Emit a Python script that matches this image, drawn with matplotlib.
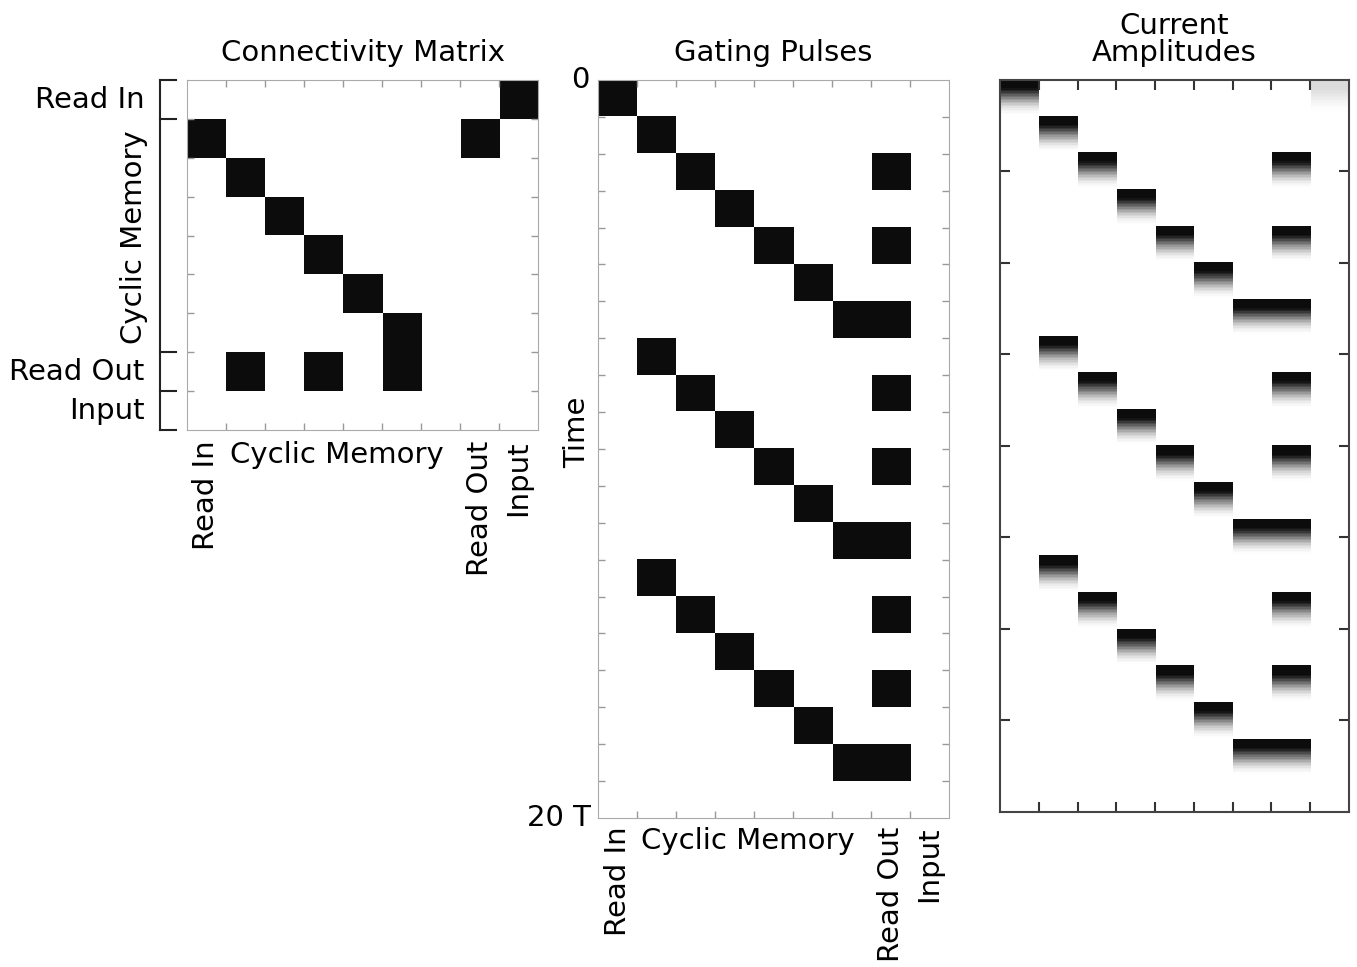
import numpy as np
import matplotlib
matplotlib.use("Agg")
import matplotlib.pyplot as plt

# ─── Data ────────────────────────────────────────────────────────
UNITS = ["Read In", "CM1", "CM2", "CM3", "CM4", "CM5", "CM6", "Read Out", "Input"]
N_UNITS = len(UNITS)
N_STEPS = 20

# connectivity: (row, col) pairs that are 1
CONNECTIONS = [
    (0, 8),
    (1, 0), (1, 7),
    (2, 1), (3, 2), (4, 3), (5, 4), (6, 5),
    (7, 1), (7, 3), (7, 5),
]

# gating pulses: (time step, unit) pairs that are on
PULSES = [
    (0, 0),
    (1, 1), (2, 2), (2, 7), (3, 3), (4, 4), (4, 7), (5, 5), (6, 6), (6, 7),
    (7, 1), (8, 2), (8, 7), (9, 3), (10, 4), (10, 7), (11, 5), (12, 6), (12, 7),
    (13, 1), (14, 2), (14, 7), (15, 3), (16, 4), (16, 7), (17, 5), (18, 6), (18, 7),
]

# faint input current at t=0
EXTRA_AMPS = [(0, 8, 0.15)]

# shape of a current pulse within one time step
DECAY_PROFILE = [1.0, 1.0, 1.0, 1.0, 1.0, 1.0, 0.96, 0.9, 0.82, 0.74,
                 0.66, 0.58, 0.5, 0.42, 0.35, 0.28, 0.22, 0.17, 0.12, 0.08,
                 0.05, 0.03, 0.01, 0.0]

X_LABELS_ROT = {0: "Read In", 7: "Read Out", 8: "Input"}
TICK_GRAY = "#999999"
FS = 21


def build_matrices():
    conn = np.zeros((N_UNITS, N_UNITS))
    for r, c in CONNECTIONS:
        conn[r, c] = 1
    gate = np.zeros((N_STEPS, N_UNITS))
    for t, u in PULSES:
        gate[t, u] = 1
    amp = gate.copy()
    for t, u, a in EXTRA_AMPS:
        amp[t, u] = a
    prof = np.array(DECAY_PROFILE)[:, None]
    amp_img = np.kron(amp, prof)
    return conn, gate, amp_img


def unit_xlabels(ax, y0=-0.03):
    # rotated labels for single units, one horizontal label for the memory block
    for i, name in X_LABELS_ROT.items():
        ax.text((i + 0.5) / N_UNITS, y0, name, transform=ax.transAxes,
                rotation=90, ha="center", va="top", fontsize=FS)
    ax.text(3.85 / N_UNITS, y0, "Cyclic Memory", transform=ax.transAxes,
            ha="center", va="top", fontsize=FS)


def grid_ticks(ax, nx, ny, color=TICK_GRAY):
    ax.set_xticks(np.arange(1, nx) - 0.5)
    ax.set_yticks(np.arange(1, ny) - 0.5)
    ax.set_xticklabels([])
    ax.set_yticklabels([])
    ax.tick_params(direction="in", length=5, width=1, color=color,
                   top=True, bottom=True, left=True, right=True)


def main():
    conn, gate, amp_img = build_matrices()

    plt.rcParams["font.family"] = "DejaVu Sans"
    fig = plt.figure(figsize=(13.57, 9.67), dpi=100)

    # ─── Connectivity Matrix ─────────────────────────────────────
    ax1 = fig.add_axes([0.1378, 0.5553, 0.2587, 0.3619])
    ax1.imshow(conn, cmap="gray_r", vmin=0, vmax=1.05, aspect="auto",
               interpolation="nearest")
    grid_ticks(ax1, N_UNITS, N_UNITS)
    for s in ax1.spines.values():
        s.set_color("#aaaaaa")
    ax1.set_title("Connectivity Matrix", fontsize=FS, pad=14)
    unit_xlabels(ax1)

    # bracket on the left
    bx = -0.077
    bounds = [0, 1, 7, 8, 9]
    ax1.plot([bx, bx], [1, 0], color="#222222", lw=1.5,
             transform=ax1.transAxes, clip_on=False)
    for b in bounds:
        yy = 1 - b / N_UNITS
        ax1.plot([bx, -0.031], [yy, yy], color="#222222", lw=1.5,
                 transform=ax1.transAxes, clip_on=False)
    for i, name in X_LABELS_ROT.items():
        ax1.text(-0.12, 1 - (i + 0.5) / N_UNITS, name, transform=ax1.transAxes,
                 ha="right", va="center", fontsize=FS)
    ax1.text(-0.15, 1 - 4.05 / N_UNITS, "Cyclic Memory", transform=ax1.transAxes,
             rotation=90, ha="center", va="center", fontsize=FS)

    # ─── Gating Pulses ───────────────────────────────────────────
    ax2 = fig.add_axes([0.4407, 0.1541, 0.2587, 0.7632])
    ax2.imshow(gate, cmap="gray_r", vmin=0, vmax=1.05, aspect="auto",
               interpolation="nearest")
    grid_ticks(ax2, N_UNITS, N_STEPS)
    for s in ax2.spines.values():
        s.set_color("#aaaaaa")
    ax2.set_title("Gating Pulses", fontsize=FS, pad=14)
    unit_xlabels(ax2, y0=-0.012)
    ax2.text(-0.025, 1.0, "0", transform=ax2.transAxes, ha="right",
             va="center", fontsize=FS)
    ax2.text(-0.02, 0.0, "20 T", transform=ax2.transAxes, ha="right",
             va="center", fontsize=FS)
    ax2.text(-0.06, 0.523, "Time", transform=ax2.transAxes, rotation=90,
             ha="center", va="center", fontsize=FS)

    # ─── Current Amplitudes ──────────────────────────────────────
    ax3 = fig.add_axes([0.7369, 0.1603, 0.2572, 0.757])
    ax3.imshow(amp_img, cmap="gray_r", vmin=0, vmax=1.05, aspect="auto",
               interpolation="nearest",
               extent=[-0.5, N_UNITS - 0.5, N_STEPS - 0.5, -0.5])
    ax3.set_xlim(-0.5, N_UNITS - 0.5)
    ax3.set_ylim(N_STEPS - 0.5, -0.5)
    ax3.set_xticks(np.arange(1, N_UNITS) - 0.5)
    ax3.set_yticks(np.arange(1, 8) * 2.5 - 0.5)
    ax3.set_xticklabels([])
    ax3.set_yticklabels([])
    ax3.tick_params(direction="in", length=7, width=1.5, color="#333333",
                    top=True, bottom=True, left=True, right=True)
    for s in ax3.spines.values():
        s.set_color("#444444")
        s.set_linewidth(1.5)
    ax3.set_title("Current\nAmplitudes", fontsize=FS, pad=14, linespacing=0.95)

    fig.savefig("out.png", dpi=100)
    plt.close(fig)


if __name__ == "__main__":
    main()
